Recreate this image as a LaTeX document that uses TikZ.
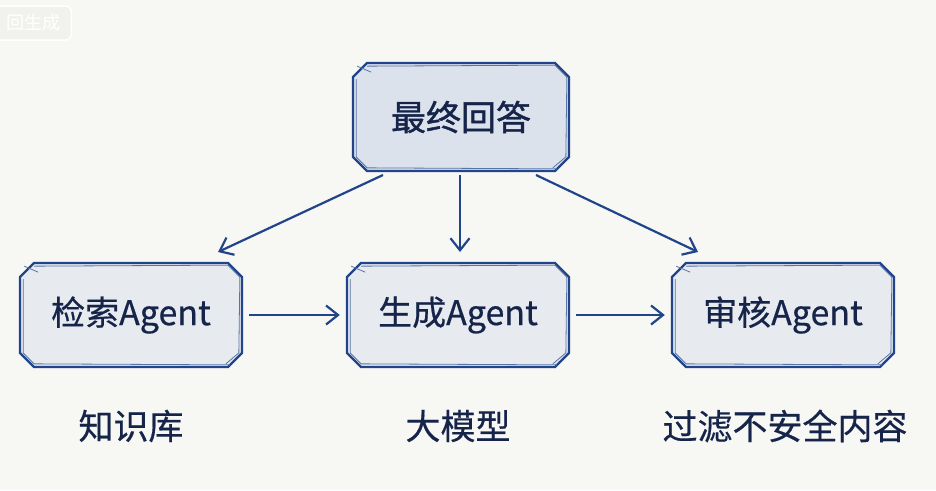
\documentclass[tikz,border=0pt]{standalone}
\usepackage{fontspec}
\setmainfont{Noto Sans CJK SC}
\newfontfamily\medfont{Noto Sans CJK SC}[FakeBold=0.5]
\newfontfamily\heavyfont{Noto Sans CJK SC}[FakeBold=1.2]
\usetikzlibrary{shapes.misc,arrows.meta,calc}
\definecolor{bgc}{HTML}{F7F7F4}
\definecolor{navy}{HTML}{21458A}
\definecolor{txt}{HTML}{16244A}
\definecolor{fillA}{HTML}{DCE2EC}
\definecolor{fillB}{HTML}{E7EAEF}
\tikzset{
  box/.style={chamfered rectangle, chamfered rectangle xsep=7pt, chamfered rectangle ysep=7pt,
    draw=navy, line width=2.4pt, fill=fillB, minimum width=222pt, minimum height=104pt,
    text=txt, font=\medfont\fontsize{34}{40}\selectfont, inner sep=0pt},
  topbox/.style={box, fill=fillA, minimum width=216pt, minimum height=108pt, font=\heavyfont\fontsize{35}{40}\selectfont},
  sketchline/.style={draw=navy!75, line width=0.8pt},
  lbl/.style={text=txt, font=\medfont\fontsize{35}{40}\selectfont},
  conn/.style={draw=navy, line width=2.2pt, -{Straight Barb[length=12pt,width=19pt,line width=2.2pt]}},
}
\newcommand{\sketchout}[1]{%
  \draw[sketchline] ($(#1.north west)+(-2,-3)$) -- ($(#1.north west)+(12,3)$);
  \draw[sketchline] ($(#1.north west)+(8,-3)$) -- ($(#1.north east)+(-8,-4)$) -- ($(#1.north east)+(4,8)$) -- ($(#1.south east)+(3,-8)$) -- ($(#1.south east)+(-10,3)$);
  \draw[sketchline] ($(#1.south east)+(-6,4)$) -- ($(#1.south west)+(8,3)$) -- ($(#1.south west)+(-3,-8)$) -- ($(#1.north west)+(-3,10)$);
}
\begin{document}
\begin{tikzpicture}[x=1pt,y=-1pt]
\fill[bgc] (0,0) rectangle (936,490);
\useasboundingbox (0,0) rectangle (936,490);
% faint header tab
\node[draw=white, line width=1.5pt, rounded corners=6pt, fill=bgc!95!gray, minimum width=76pt, minimum height=34pt, text=white, font=\fontsize{18}{20}\selectfont, anchor=east] (tab) at (72,23) {回生成};
% boxes
\node[topbox] (top) at (461,117) {最终回答};
\node[box] (ret) at (131,315) {检索Agent};
\node[box] (gen) at (458,315) {生成Agent};
\node[box] (rev) at (783,315) {审核Agent};
\sketchout{top}
\sketchout{ret}
\sketchout{gen}
\sketchout{rev}
% labels
\node[lbl] (l1) at (131,426) {知识库};
\node[lbl] (l2) at (458,426) {大模型};
\node[lbl] (l3) at (785,426) {过滤不安全内容};
% connectors
\coordinate (a1s) at (383,175); \coordinate (a1e) at (218,252);
\coordinate (a2s) at (460,175); \coordinate (a2e) at (460,252);
\coordinate (a3s) at (536,175); \coordinate (a3e) at (698,252);
\draw[conn] (a1s) -- (a1e);
\draw[conn] (a2s) -- (a2e);
\draw[conn] (a3s) -- (a3e);
\draw[conn] ([xshift=6pt]ret.east) -- ([xshift=-6pt]gen.west);
\draw[conn] ([xshift=6pt]gen.east) -- ([xshift=-6pt]rev.west);
\end{tikzpicture}
\end{document}
